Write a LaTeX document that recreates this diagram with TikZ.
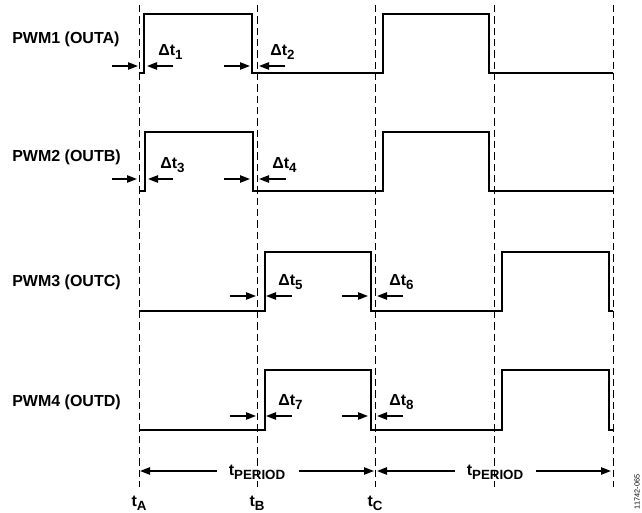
\documentclass[tikz,border=0pt]{standalone}
\usepackage{fontspec}
\setmainfont{Liberation Sans}
\usetikzlibrary{arrows.meta}
\newcommand\mysub[1]{\raisebox{-0.45ex}{\fontsize{10}{12}\selectfont #1}}
\begin{document}
\begin{tikzpicture}[x=0.75pt,y=-0.75pt,
  sig/.style={line width=1.5pt,line join=miter},
  grid/.style={line width=0.6pt,dash pattern=on 5.5pt off 3pt},
  dimarrow/.style={line width=1.1pt,-{Triangle[length=7.5pt,width=5.5pt]}},
  lbl/.style={font=\bfseries\fontsize{12}{14}\selectfont,inner sep=0pt},
  dt/.style={lbl,anchor=west}]
\useasboundingbox (0,0) rectangle (642,513);
% dashed time markers
\foreach \x/\n in {139/A,257/B,375/C,494/D,613/E}{
  \coordinate (top\n) at (\x,5);
  \coordinate (bot\n) at (\x,487);
  \draw[grid] (top\n) -- (bot\n);
}
% signal labels
\node[lbl,anchor=west] (l1) at (12,39) {PWM1 (OUTA)};
\node[lbl,anchor=west] (l2) at (12,157) {PWM2 (OUTB)};
\node[lbl,anchor=west] (l3) at (12,282) {PWM3 (OUTC)};
\node[lbl,anchor=west] (l4) at (12,402) {PWM4 (OUTD)};
% waveforms
\draw[sig] (139,73) -- (144,73) -- (144,14) -- (252,14) -- (252,73) -- (383,73) -- (383,14) -- (489,14) -- (489,73) -- (613,73);
\draw[sig] (139,191) -- (145,191) -- (145,132) -- (253,132) -- (253,191) -- (383,191) -- (383,132) -- (489,132) -- (489,191) -- (613,191);
\draw[sig] (139,311) -- (265,311) -- (265,252) -- (371,252) -- (371,311) -- (502,311) -- (502,252) -- (609,252) -- (609,311) -- (613,311);
\draw[sig] (139,430) -- (265,430) -- (265,370) -- (371,370) -- (371,430) -- (502,430) -- (502,370) -- (609,370) -- (609,430) -- (613,430);
% delta t arrows
\foreach \y/\a/\b/\c/\d in {66/112/138/173/147, 66/224/250/285/259, 179/112/137/173/148, 179/224/250/286/259, 296/230/256/292/266, 296/342/368/403/377, 416/230/256/292/266, 416/342/368/403/377}{
  \draw[dimarrow] (\a,\y) -- (\b,\y);
  \draw[dimarrow] (\c,\y) -- (\d,\y);
}
\node[dt] (d1) at (158,52) {Δt\mysub{1}};
\node[dt] (d2) at (270,52) {Δt\mysub{2}};
\node[dt] (d3) at (160,165) {Δt\mysub{3}};
\node[dt] (d4) at (272,165) {Δt\mysub{4}};
\node[dt] (d5) at (278,282) {Δt\mysub{5}};
\node[dt] (d6) at (389,282) {Δt\mysub{6}};
\node[dt] (d7) at (278,402) {Δt\mysub{7}};
\node[dt] (d8) at (389,402) {Δt\mysub{8}};
% period arrows
\node[lbl] (p1) at (257,472) {t\mysub{PERIOD}};
\node[lbl] (p2) at (495,472) {t\mysub{PERIOD}};
\draw[dimarrow] (217,471) -- (140,471);
\draw[dimarrow] (299,471) -- (374,471);
\draw[dimarrow] (455,471) -- (377,471);
\draw[dimarrow] (536,471) -- (611,471);
\node[lbl] (ta) at (139,503) {t\mysub{A}};
\node[lbl] (tb) at (257,503) {t\mysub{B}};
\node[lbl] (tc) at (375,503) {t\mysub{C}};
\node[font=\fontsize{5.5}{6}\selectfont,inner sep=0pt,rotate=90] (id) at (637,492) {11742-065};
\end{tikzpicture}
\end{document}
